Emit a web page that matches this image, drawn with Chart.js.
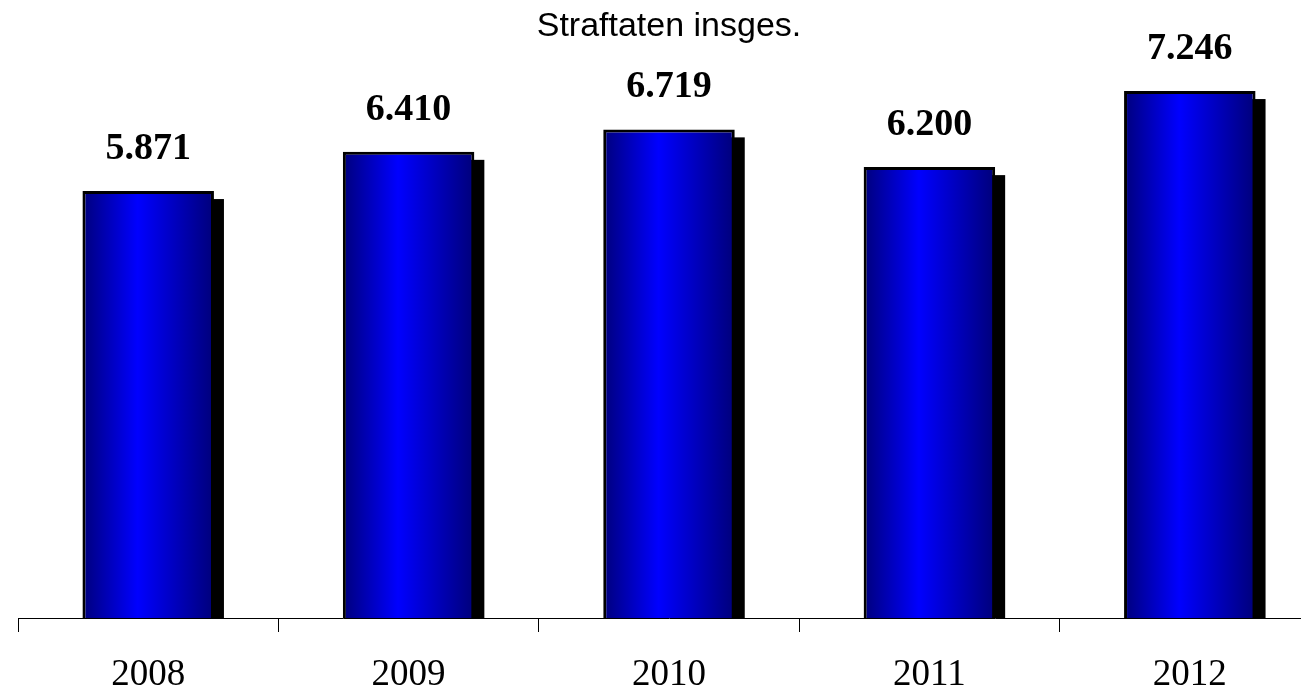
<!DOCTYPE html>
<html>
<head>
<meta charset="utf-8">
<title>Straftaten insges.</title>
<script src="https://cdn.jsdelivr.net/npm/chart.js@4.4.1/dist/chart.umd.min.js"></script>
<style>
    html, body { margin: 0; padding: 0; background: #ffffff; overflow: hidden; }
    #wrap { position: relative; width: 1330px; height: 719px; }
</style>
</head>
<body>
<div id="wrap"><canvas id="chart"></canvas></div>
<script>
// Chart data
const chartTitle = "Straftaten insges.";
const years = ["2008", "2009", "2010", "2011", "2012"];
const offences = [5871, 6410, 6719, 6200, 7246];

const BAR_PCT = 0.505;

// German thousands separator, e.g. 5871 -> "5.871"
function formatDe(v) {
    return String(v).replace(/\B(?=(\d{3})+(?!\d))/g, ".");
}

// Horizontal dark-bright-dark fill for each bar
function barGradient(c) {
    const chart = c.chart;
    const xs = chart.scales.x;
    if (!chart.chartArea || !xs || c.type !== "data") return "#0000ff";
    const center = xs.getPixelForValue(c.dataIndex);
    const half = (xs.width / years.length) * BAR_PCT / 2;
    const grad = chart.ctx.createLinearGradient(center - half, 0, center + half, 0);
    grad.addColorStop(0, "#00007c");
    grad.addColorStop(0.42, "#0000ff");
    grad.addColorStop(1, "#00007a");
    return grad;
}

// Black drop shadow behind the bars and value labels above them
const barStylePlugin = {
    id: "barStyle",
    beforeDatasetsDraw(chart) {
        const ctx = chart.ctx;
        const meta = chart.getDatasetMeta(0);
        ctx.save();
        ctx.fillStyle = "#000000";
        meta.data.forEach(bar => {
            const left = bar.x - bar.width / 2;
            ctx.fillRect(left + 10, bar.y + 8, bar.width, bar.base - bar.y - 8);
        });
        ctx.restore();
    },
    afterDatasetsDraw(chart) {
        const ctx = chart.ctx;
        const meta = chart.getDatasetMeta(0);
        ctx.save();
        ctx.font = "bold 38px 'Liberation Serif', 'Times New Roman', serif";
        ctx.fillStyle = "#000000";
        ctx.textAlign = "center";
        ctx.textBaseline = "middle";
        meta.data.forEach((bar, i) => {
            ctx.fillText(formatDe(offences[i]), bar.x, bar.y - 42);
        });
        ctx.restore();
    }
};

new Chart(document.getElementById("chart"), {
    type: "bar",
    data: {
        labels: years,
        datasets: [{
            data: offences,
            backgroundColor: barGradient,
            borderColor: "#000000",
            borderWidth: 3,
            categoryPercentage: 1.0,
            barPercentage: BAR_PCT
        }]
    },
    options: {
        responsive: true,
        maintainAspectRatio: false,
        animation: false,
        layout: { padding: { left: 18, right: 10, top: 0, bottom: 0 } },
        plugins: {
            legend: { display: false },
            tooltip: { enabled: false },
            title: {
                display: true,
                text: chartTitle,
                color: "#000000",
                font: { family: "'Liberation Sans', Arial, sans-serif", size: 34, weight: "normal", lineHeight: 1.1 },
                padding: { top: 8, bottom: 1 }
            }
        },
        scales: {
            x: {
                offset: true,
                grid: {
                    display: true,
                    offset: true,
                    drawOnChartArea: false,
                    drawTicks: true,
                    tickLength: 14,
                    color: "#000000",
                    lineWidth: 1
                },
                border: { display: true, color: "#000000", width: 1 },
                ticks: {
                    color: "#000000",
                    padding: 25,
                    maxRotation: 0,
                    font: { family: "'Liberation Serif', 'Times New Roman', serif", size: 37, lineHeight: 1 }
                }
            },
            y: {
                display: false,
                min: 0,
                max: 7860
            }
        }
    },
    plugins: [barStylePlugin]
});
</script>
</body>
</html>
